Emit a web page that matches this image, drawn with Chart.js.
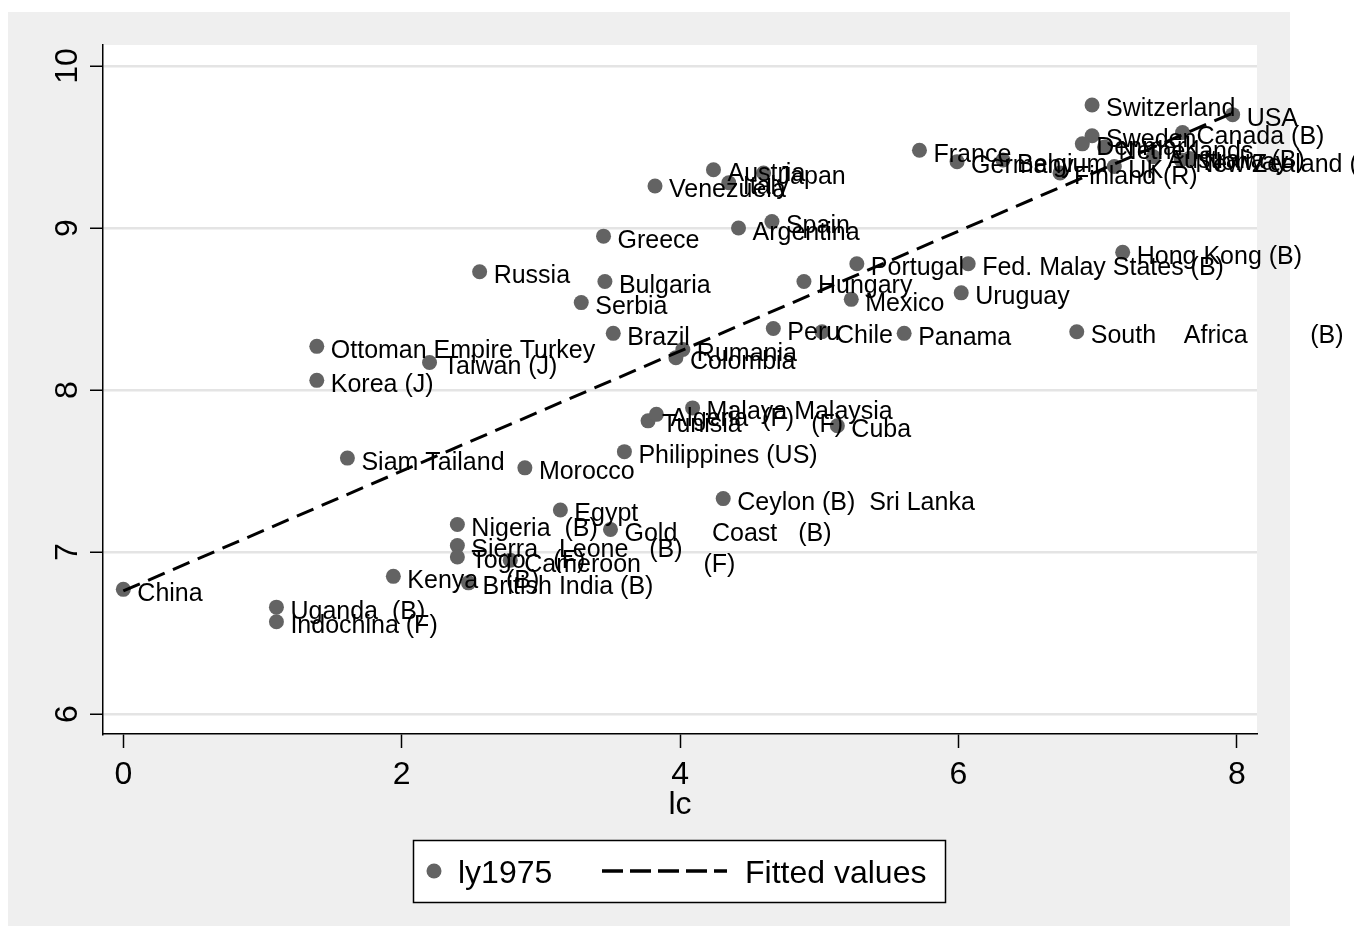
<!DOCTYPE html>
<html lang="en">
<head>
<meta charset="UTF-8">
<title>ly1975 vs lc</title>
<script src="https://cdn.jsdelivr.net/npm/chart.js"></script>
<style>
    body { margin: 0; background: #fff; }
    #wrap { width: 1354px; height: 936px; }
</style>
</head>
<body>
<div id="wrap"><canvas id="chart" width="1354" height="936"></canvas></div>
<script>
// point labels, x = lc, y = ly1975
const countries = [
    'China', 'Uganda  (B)', 'Indochina (F)', 'Kenya    (B)', 'Siam Tailand',
    'Korea (J)', 'Ottoman Empire Turkey', 'Taiwan (J)', 'Russia', 'Nigeria  (B)',
    'Sierra   Leone   (B)', 'Togo    (F)', 'Cameroon         (F)', 'British India (B)', 'Morocco',
    'Egypt', 'Gold     Coast   (B)', 'Philippines (US)', 'Tunisia          (F)', 'Algeria  (F)',
    'Malaya Malaysia', 'Cuba', 'Ceylon (B)  Sri Lanka', 'Brazil', 'Serbia',
    'Bulgaria', 'Greece', 'Rumania', 'Colombia', 'Peru',
    'Chile', 'Hungary', 'Mexico', 'Portugal', 'Panama',
    'Uruguay', 'Fed. Malay States (B)', 'Hong Kong (B)', 'South    Africa         (B)', 'Spain',
    'Argentina', 'Austria', 'Italy', 'Japan', 'Venezuela',
    'France', 'Germany', 'Belgium', 'Switzerland', 'USA',
    'Finland (R)', 'Sweden', 'Denmark', 'Netherlands', 'UK',
    'Australia (B)', 'Canada (B)', 'New Zealand (B)', 'Norway'
];
const lc = [
    0.00, 1.10, 1.10, 1.94, 1.61,
    1.39, 1.39, 2.20, 2.56, 2.40,
    2.40, 2.40, 2.78, 2.48, 2.885,
    3.14, 3.50, 3.60, 3.77, 3.83,
    4.09, 5.13, 4.31, 3.52, 3.29,
    3.46, 3.45, 4.02, 3.97, 4.67,
    5.02, 4.89, 5.23, 5.27, 5.61,
    6.02, 6.07, 7.18, 6.85, 4.66,
    4.42, 4.24, 4.35, 4.60, 3.82,
    5.72, 5.99, 6.32, 6.96, 7.97,
    6.73, 6.96, 6.89, 7.05, 7.12,
    7.40, 7.61, 7.60, 7.66
];
const ly1975 = [
    6.77, 6.66, 6.57, 6.85, 7.58,
    8.06, 8.27, 8.17, 8.73, 7.17,
    7.04, 6.97, 6.95, 6.81, 7.52,
    7.26, 7.14, 7.62, 7.81, 7.85,
    7.89, 7.78, 7.33, 8.35, 8.54,
    8.67, 8.95, 8.25, 8.20, 8.38,
    8.36, 8.67, 8.56, 8.78, 8.35,
    8.60, 8.78, 8.85, 8.36, 9.04,
    9.00, 9.36, 9.28, 9.34, 9.26,
    9.48, 9.41, 9.42, 9.76, 9.70,
    9.34, 9.57, 9.52, 9.50, 9.38,
    9.44, 9.59, 9.42, 9.43
];
// fitted line endpoints
const fitLc = [0, 7.97];
const fitLy = [6.76, 9.71];

const xTicks = [0, 2, 4, 6, 8];
const yTicks = [6, 7, 8, 9, 10];

const FONT = '"Liberation Sans", Arial, sans-serif';
const GREY = '#636363';

const scatterData = lc.map((v, i) => ({ x: v, y: ly1975[i] }));
const fitData = fitLc.map((v, i) => ({ x: v, y: fitLy[i] }));

// backgrounds, tick labels, axis title, point labels and legend box
const stataLook = {
    id: 'stataLook',
    beforeDraw(chart) {
        const ctx = chart.ctx;
        const a = chart.chartArea;
        ctx.save();
        ctx.fillStyle = '#ffffff';
        ctx.fillRect(0, 0, chart.width, chart.height);
        ctx.fillStyle = '#efefef';
        ctx.fillRect(8, 12, 1282, 914);
        ctx.fillStyle = '#ffffff';
        ctx.fillRect(a.left, a.top, a.right - a.left, a.bottom - a.top);
        ctx.restore();
    },
    afterDatasetsDraw(chart) {
        const ctx = chart.ctx;
        const meta = chart.getDatasetMeta(1);
        ctx.save();
        ctx.font = '25px ' + FONT;
        ctx.fillStyle = '#000';
        ctx.textAlign = 'left';
        ctx.textBaseline = 'alphabetic';
        meta.data.forEach((pt, i) => {
            ctx.fillText(countries[i], pt.x + 14, pt.y + 11.5);
        });
        ctx.restore();
    },
    afterDraw(chart) {
        const ctx = chart.ctx;
        const xs = chart.scales.x;
        const ys = chart.scales.y;
        ctx.save();
        ctx.fillStyle = '#000';
        ctx.font = '32px ' + FONT;
        // x tick labels
        ctx.textAlign = 'center';
        ctx.textBaseline = 'alphabetic';
        xTicks.forEach(v => ctx.fillText(String(v), xs.getPixelForValue(v), 784));
        // y tick labels, rotated
        yTicks.forEach(v => {
            ctx.save();
            ctx.translate(77, ys.getPixelForValue(v));
            ctx.rotate(-Math.PI / 2);
            ctx.textAlign = 'center';
            ctx.fillText(String(v), 0, 0);
            ctx.restore();
        });
        // axis title
        ctx.fillText('lc', (chart.chartArea.left + chart.chartArea.right) / 2, 814);

        // legend
        ctx.fillStyle = '#fff';
        ctx.fillRect(413, 840, 533, 63);
        ctx.strokeStyle = '#000';
        ctx.lineWidth = 1.5;
        ctx.strokeRect(413.5, 840.5, 532, 62);
        ctx.fillStyle = GREY;
        ctx.beginPath();
        ctx.arc(434, 871, 7.5, 0, Math.PI * 2);
        ctx.fill();
        ctx.fillStyle = '#000';
        ctx.font = '32px ' + FONT;
        ctx.textAlign = 'left';
        ctx.fillText(chart.data.datasets[1].label, 458, 883);
        ctx.setLineDash([21, 7]);
        ctx.lineWidth = 3.5;
        ctx.beginPath();
        ctx.moveTo(602, 871);
        ctx.lineTo(727, 871);
        ctx.stroke();
        ctx.setLineDash([]);
        ctx.fillText(chart.data.datasets[0].label, 745, 883);
        ctx.restore();
    }
};

new Chart(document.getElementById('chart'), {
    type: 'scatter',
    data: {
        datasets: [
            {
                label: 'Fitted values',
                type: 'line',
                data: fitData,
                borderColor: '#000',
                borderWidth: 3,
                borderDash: [18, 9],
                pointRadius: 0,
                fill: false
            },
            {
                label: 'ly1975',
                data: scatterData,
                pointRadius: 7.5,
                pointBackgroundColor: GREY,
                pointBorderWidth: 0,
                backgroundColor: GREY
            }
        ]
    },
    options: {
        responsive: false,
        animation: false,
        layout: { padding: { left: 0, top: 45, right: 97, bottom: 0 } },
        plugins: {
            legend: { display: false },
            tooltip: { enabled: false }
        },
        scales: {
            x: {
                type: 'linear',
                min: -0.146,
                max: 8.145,
                afterBuildTicks: s => { s.ticks = xTicks.map(v => ({ value: v })); },
                afterFit: s => { s.height = 202; },
                ticks: { display: false },
                grid: { drawOnChartArea: false, tickColor: '#000', tickLength: 14, tickWidth: 1.5 },
                border: { color: '#000', width: 1.5 }
            },
            y: {
                type: 'linear',
                min: 5.877,
                max: 10.13,
                afterBuildTicks: s => { s.ticks = yTicks.map(v => ({ value: v })); },
                afterFit: s => { s.width = 103; },
                ticks: { display: false },
                grid: { color: '#e4e4e4', lineWidth: 2.5, tickColor: '#000', tickLength: 13, tickWidth: 1.5 },
                border: { color: '#000', width: 1.5 }
            }
        }
    },
    plugins: [stataLook]
});
</script>
</body>
</html>
